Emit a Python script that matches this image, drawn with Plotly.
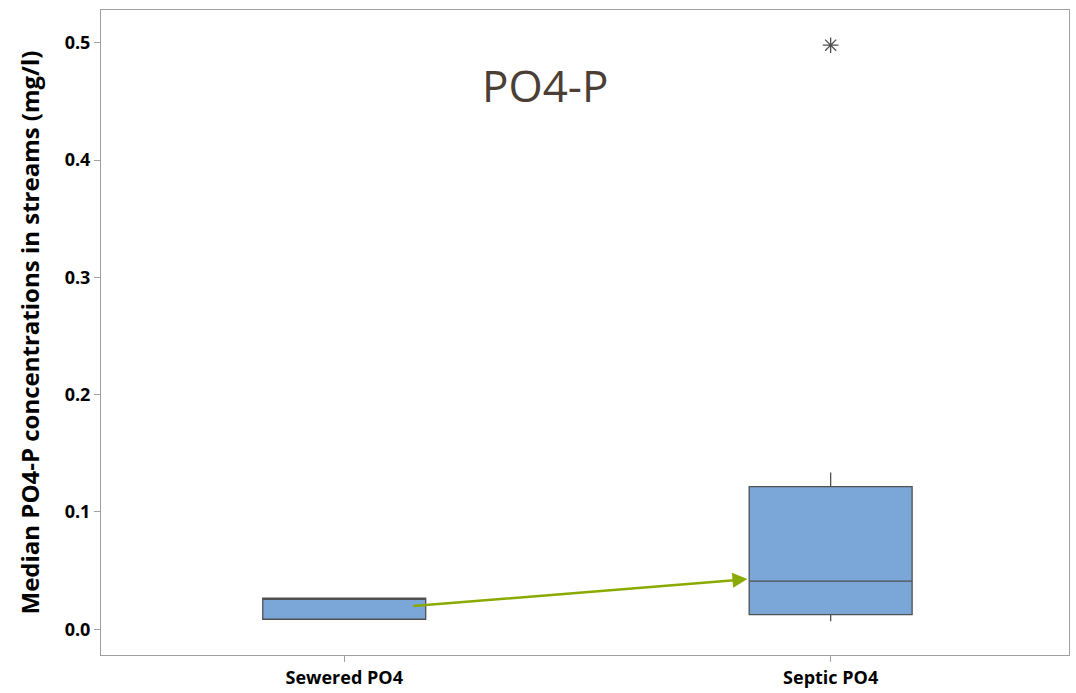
import plotly.graph_objects as go

categories = ["Sewered PO4", "Septic PO4"]
x_pos = [0, 1]
q1 = [0.0085, 0.0125]
median = [0.0255, 0.041]
q3 = [0.0265, 0.1215]
lowerfence = [0.0085, 0.0068]
upperfence = [0.0265, 0.1337]
outlier_x = [1]
outlier_y = [0.498]
arrow_from = (0.139, 0.0196)
arrow_to = (0.829, 0.0427)

fig = go.Figure()
fig.add_trace(go.Box(
    x=x_pos, q1=q1, median=median, q3=q3,
    lowerfence=lowerfence, upperfence=upperfence,
    width=0.335, whiskerwidth=0,
    fillcolor="#7ba6d8", line=dict(color="#505050", width=1.3),
    boxpoints=False, showlegend=False, hoverinfo="skip",
))
fig.add_trace(go.Scatter(
    x=outlier_x, y=outlier_y, mode="markers",
    marker=dict(symbol="asterisk-open", size=13, color="#505050",
                line=dict(color="#505050", width=1.3)),
    showlegend=False,
))
fig.add_annotation(
    x=arrow_to[0], y=arrow_to[1], ax=arrow_from[0], ay=arrow_from[1],
    xref="x", yref="y", axref="x", ayref="y",
    showarrow=True, arrowhead=2, arrowsize=1.2, arrowwidth=2.5,
    arrowcolor="#8aaa00", text="",
)
fig.add_annotation(
    x=0.413, y=0.464, xref="x", yref="y", text="PO4-P", showarrow=False,
    font=dict(family="Open Sans", size=44, color="#4b3f35"),
)

fig.update_layout(
    width=1076, height=693,
    margin=dict(l=101, r=7, t=10, b=38),
    plot_bgcolor="white", paper_bgcolor="white",
    font=dict(family="Open Sans", color="black"),
)
fig.update_xaxes(
    range=[-0.5, 1.49], tickmode="array", tickvals=x_pos, ticktext=categories,
    showgrid=False, zeroline=False, showline=True, mirror=True, automargin=False,
    linecolor="#a0a0a0", linewidth=1, ticks="outside", ticklen=6, tickcolor="#a0a0a0",
    tickfont=dict(size=18, family="Open Sans", weight="bold", color="black"),
)
fig.update_yaxes(
    range=[-0.022, 0.528], tickvals=[0, 0.1, 0.2, 0.3, 0.4, 0.5], tickformat=".1f",
    showgrid=False, zeroline=False, showline=True, mirror=True, automargin=False,
    linecolor="#a0a0a0", linewidth=1, ticks="outside", ticklen=6, tickcolor="#a0a0a0",
    tickfont=dict(size=18, family="Open Sans", weight="bold", color="black"),
    title=dict(text="Median PO4-P concentrations in streams (mg/l)",
               font=dict(size=24, family="Open Sans", weight="bold", color="black"), standoff=18),
)
fig.write_html("out.html")
